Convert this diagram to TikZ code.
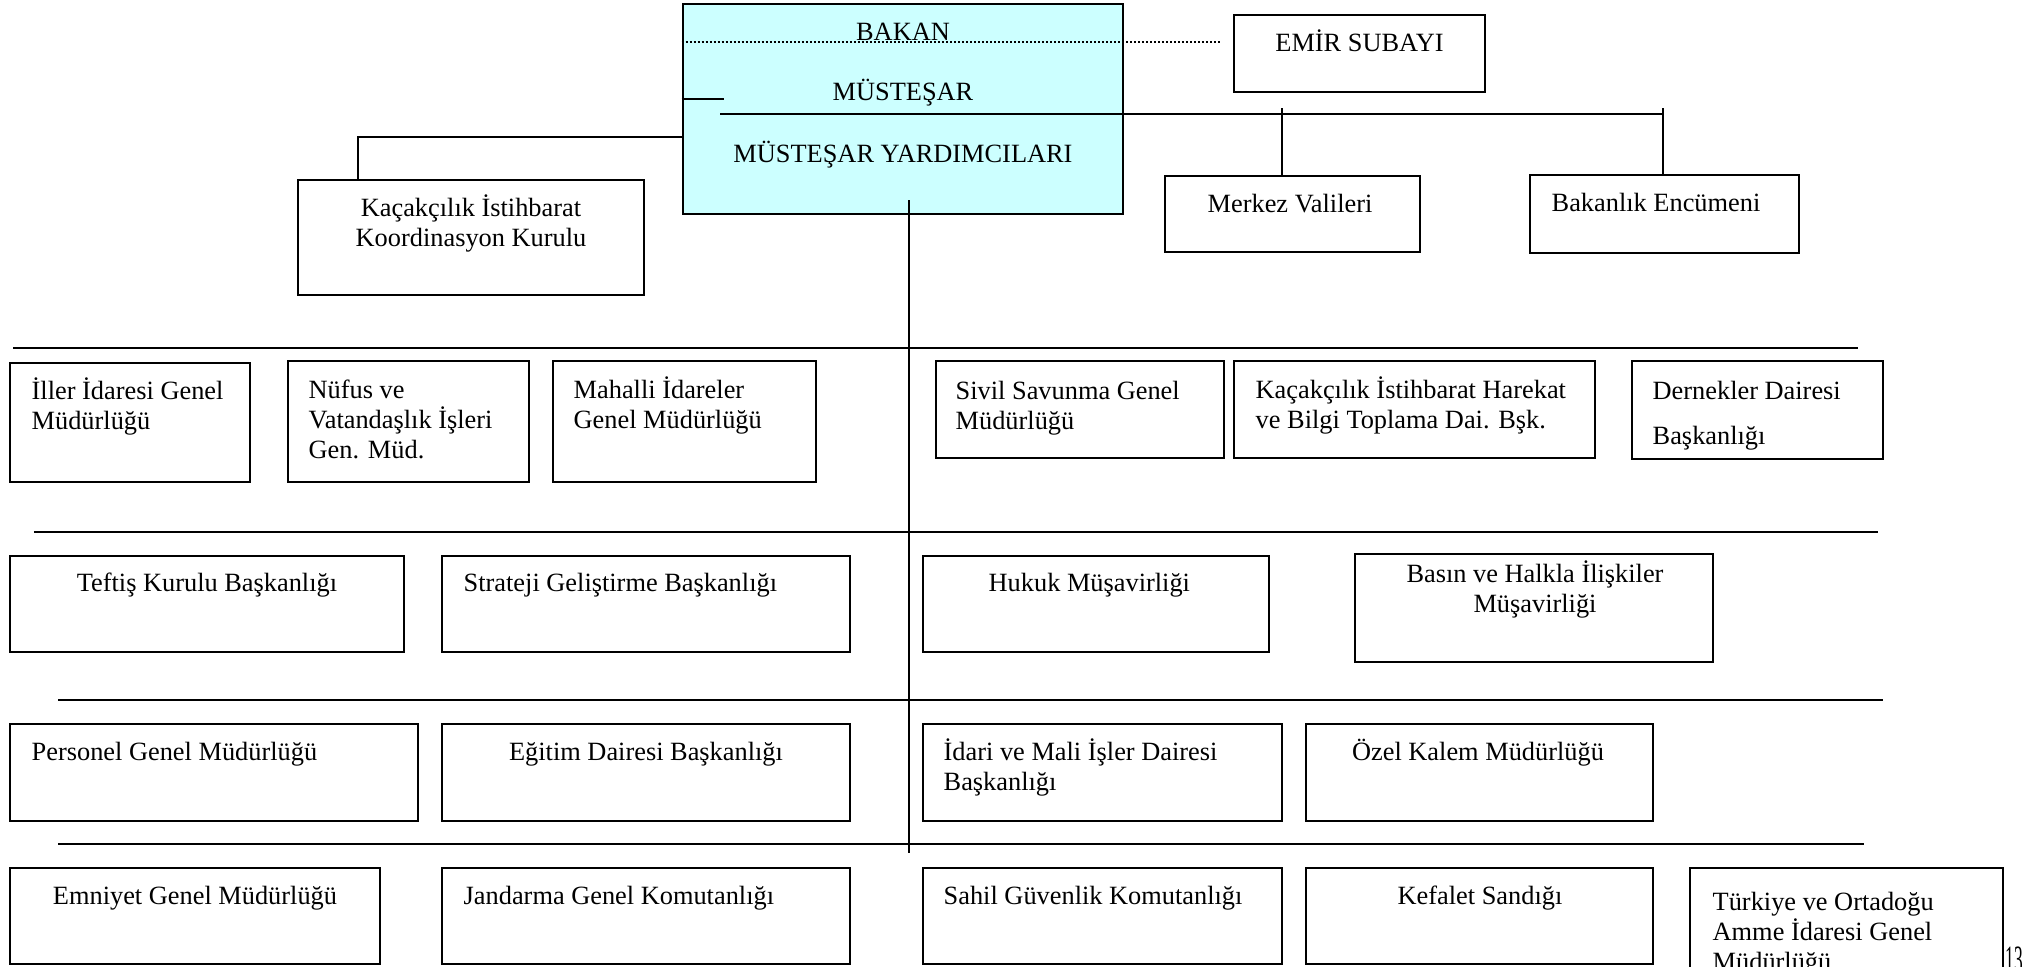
\documentclass[tikz,border=0pt]{standalone}
\usepackage{fontspec}
\setmainfont{Liberation Serif}
\usepackage{xcolor}
\usepackage{tikz}
\usetikzlibrary{positioning}
\definecolor{bakancyan}{HTML}{CCFFFF}
\tikzset{
    box/.style = {rectangle, draw=black, line width=0.7pt, inner sep=0pt},
    topbox/.style = {rectangle, draw=black, line width=0.8pt, inner sep=0pt, fill=bakancyan},
    txt/.style = {inner sep=0pt, align=left, anchor=base west},
    ctxt/.style = {inner sep=0pt, align=center, anchor=base},
}

\begin{document}
\begin{tikzpicture}[
	font=\fontsize{7.5}{8.5}\selectfont
]
\tikzset{
    conn/.style = {-, line width=0.5pt},
    connb/.style = {-, line width=0.8pt},
    bus/.style = {-, line width=0.7pt},
    dotline/.style = {-, line width=0.5pt, dash pattern=on 0.57pt off 0.57pt},
}
\useasboundingbox (0,0) rectangle (20.22,-9.67);
% ust kisim
\node[topbox, minimum width=4.40cm, minimum height=2.10cm] at (9.03,-1.09) (ust) {};
\node[box, minimum width=2.51cm, minimum height=0.77cm] at (13.595,-0.535) (emir) {};
\node[box, minimum width=3.46cm, minimum height=1.15cm] at (4.71,-2.375) (kkk) {};
\node[box, minimum width=2.55cm, minimum height=0.76cm] at (12.925,-2.14) (merkez) {};
\node[box, minimum width=2.69cm, minimum height=0.78cm] at (16.645,-2.14) (encumen) {};
%
\coordinate (dotend) at (12.22,-0.42);
\coordinate (mshort) at (7.24,-0.99);
\coordinate (mleft) at (7.20,-1.14);
\coordinate (mright) at (16.62,-1.14);
\coordinate (mvtop) at (12.82,-1.08);
\coordinate (evtop) at (16.63,-1.08);
\coordinate (kkkup) at (3.58,-1.37);
\coordinate (trtop) at (9.09,-2.00);
\coordinate (trbot) at (9.09,-8.53);
%
\draw[dotline] (ust.west |- dotend) -- (dotend);
\draw[connb] (ust.west |- mshort) -- (mshort);
\draw[conn] (mleft) -- (mright);
\draw[conn] (mvtop) -- (mvtop |- merkez.north);
\draw[conn] (evtop) -- (evtop |- encumen.north);
\draw[conn] (ust.west |- kkkup) -- (kkkup) -- (kkkup |- kkk.north);
\draw[conn] (trtop) -- (trbot);
%
\node[ctxt] at (9.03,-0.405) (bakan) {BAKAN};
\node[ctxt] at (9.03,-1.01) (mustesar) {MÜSTEŞAR};
\node[ctxt] at (9.03,-1.625) (yrd) {MÜSTEŞAR YARDIMCILARI};
\node[ctxt] at (13.595,-0.51) (emirt) {EMİR SUBAYI};
\node[ctxt] at (4.71,-2.46) (kkkt) {Kaçakçılık İstihbarat\\Koordinasyon Kurulu};
\node[ctxt] at (12.90,-2.12) (merkezt) {Merkez Valileri};
\node[txt] at (15.51,-2.11) (encument) {Bakanlık Encümeni};
% ara cizgiler
\foreach \n/\y/\a/\b in {1/3.48/0.13/18.58, 2/5.32/0.34/18.78, 3/7.00/0.58/18.83, 4/8.44/0.58/18.64}{
    \coordinate (bus\n l) at (\a,-\y);
    \coordinate (bus\n r) at (\b,-\y);
    \draw[bus] (bus\n l) -- (bus\n r);
}
% 1. sira
\node[box, minimum width=2.40cm, minimum height=1.19cm] at (1.30,-4.225) (iller) {};
\node[box, minimum width=2.41cm, minimum height=1.21cm] at (4.085,-4.215) (nufus) {};
\node[box, minimum width=2.63cm, minimum height=1.21cm] at (6.845,-4.215) (mahalli) {};
\node[box, minimum width=2.88cm, minimum height=0.97cm] at (10.80,-4.095) (sivil) {};
\node[box, minimum width=3.61cm, minimum height=0.97cm] at (14.145,-4.095) (kihb) {};
\node[box, minimum width=2.51cm, minimum height=0.98cm] at (17.575,-4.10) (dernek) {};
\node[txt] at (0.31,-4.29) (illert) {İller İdaresi Genel\\Müdürlüğü};
\node[txt] at (3.08,-4.58) (nufust) {Nüfus ve\\Vatandaşlık İşleri\\Gen. Müd.};
\node[txt] at (5.73,-4.28) (mahallit) {Mahalli İdareler\\Genel Müdürlüğü};
\node[txt] at (9.55,-4.29) (sivilt) {Sivil Savunma Genel\\Müdürlüğü};
\node[txt] at (12.55,-4.28) (kihbt) {Kaçakçılık İstihbarat Harekat\\ve Bilgi Toplama Dai. Bşk.};
\node[txt] at (16.52,-4.445) (dernekt) {Dernekler Dairesi\\[4.4pt]Başkanlığı};
% 2. sira
\node[box, minimum width=3.94cm, minimum height=0.96cm] at (2.07,-6.04) (teftis) {};
\node[box, minimum width=4.08cm, minimum height=0.96cm] at (6.46,-6.04) (strateji) {};
\node[box, minimum width=3.46cm, minimum height=0.96cm] at (10.96,-6.04) (hukuk) {};
\node[box, minimum width=3.58cm, minimum height=1.08cm] at (15.34,-6.08) (basin) {};
\node[ctxt] at (2.07,-5.91) (teftist) {Teftiş Kurulu Başkanlığı};
\node[txt] at (4.63,-5.91) (stratejit) {Strateji Geliştirme Başkanlığı};
\node[txt] at (9.88,-5.91) (hukukt) {Hukuk Müşavirliği};
\node[ctxt] at (15.35,-6.12) (basint) {Basın ve Halkla İlişkiler\\Müşavirliği};
% 3. sira
\node[box, minimum width=4.08cm, minimum height=0.97cm] at (2.14,-7.725) (personel) {};
\node[box, minimum width=4.08cm, minimum height=0.97cm] at (6.46,-7.725) (egitim) {};
\node[box, minimum width=3.59cm, minimum height=0.97cm] at (11.025,-7.725) (idari) {};
\node[box, minimum width=3.47cm, minimum height=0.97cm] at (14.795,-7.725) (ozel) {};
\node[txt] at (0.31,-7.60) (personelt) {Personel Genel Müdürlüğü};
\node[ctxt] at (6.46,-7.60) (egitimt) {Eğitim Dairesi Başkanlığı};
\node[txt] at (9.43,-7.90) (idarit) {İdari ve Mali İşler Dairesi\\Başkanlığı};
\node[ctxt] at (14.78,-7.60) (ozelt) {Özel Kalem Müdürlüğü};
% 4. sira
\node[box, minimum width=3.70cm, minimum height=0.96cm] at (1.95,-9.16) (emniyet) {};
\node[box, minimum width=4.08cm, minimum height=0.96cm] at (6.46,-9.16) (jandarma) {};
\node[box, minimum width=3.59cm, minimum height=0.96cm] at (11.025,-9.16) (sahil) {};
\node[box, minimum width=3.47cm, minimum height=0.96cm] at (14.795,-9.16) (kefalet) {};
\node[box, minimum width=3.13cm, minimum height=1.32cm] at (18.465,-9.34) (turkiye) {};
\node[ctxt] at (1.95,-9.04) (emniyett) {Emniyet Genel Müdürlüğü};
\node[txt] at (4.63,-9.04) (jandarmat) {Jandarma Genel Komutanlığı};
\node[txt] at (9.43,-9.04) (sahilt) {Sahil Güvenlik Komutanlığı};
\node[ctxt] at (14.80,-9.04) (kefalett) {Kefalet Sandığı};
\node[txt] at (17.12,-9.70) (turkiyet) {Türkiye ve Ortadoğu\\Amme İdaresi Genel\\Müdürlüğü};
\node[txt, font=\fontsize{11}{13}\selectfont] at (20.05,-9.72) (sayfa) {\scalebox{0.45}[1]{13}};
\end{tikzpicture}
\end{document}
